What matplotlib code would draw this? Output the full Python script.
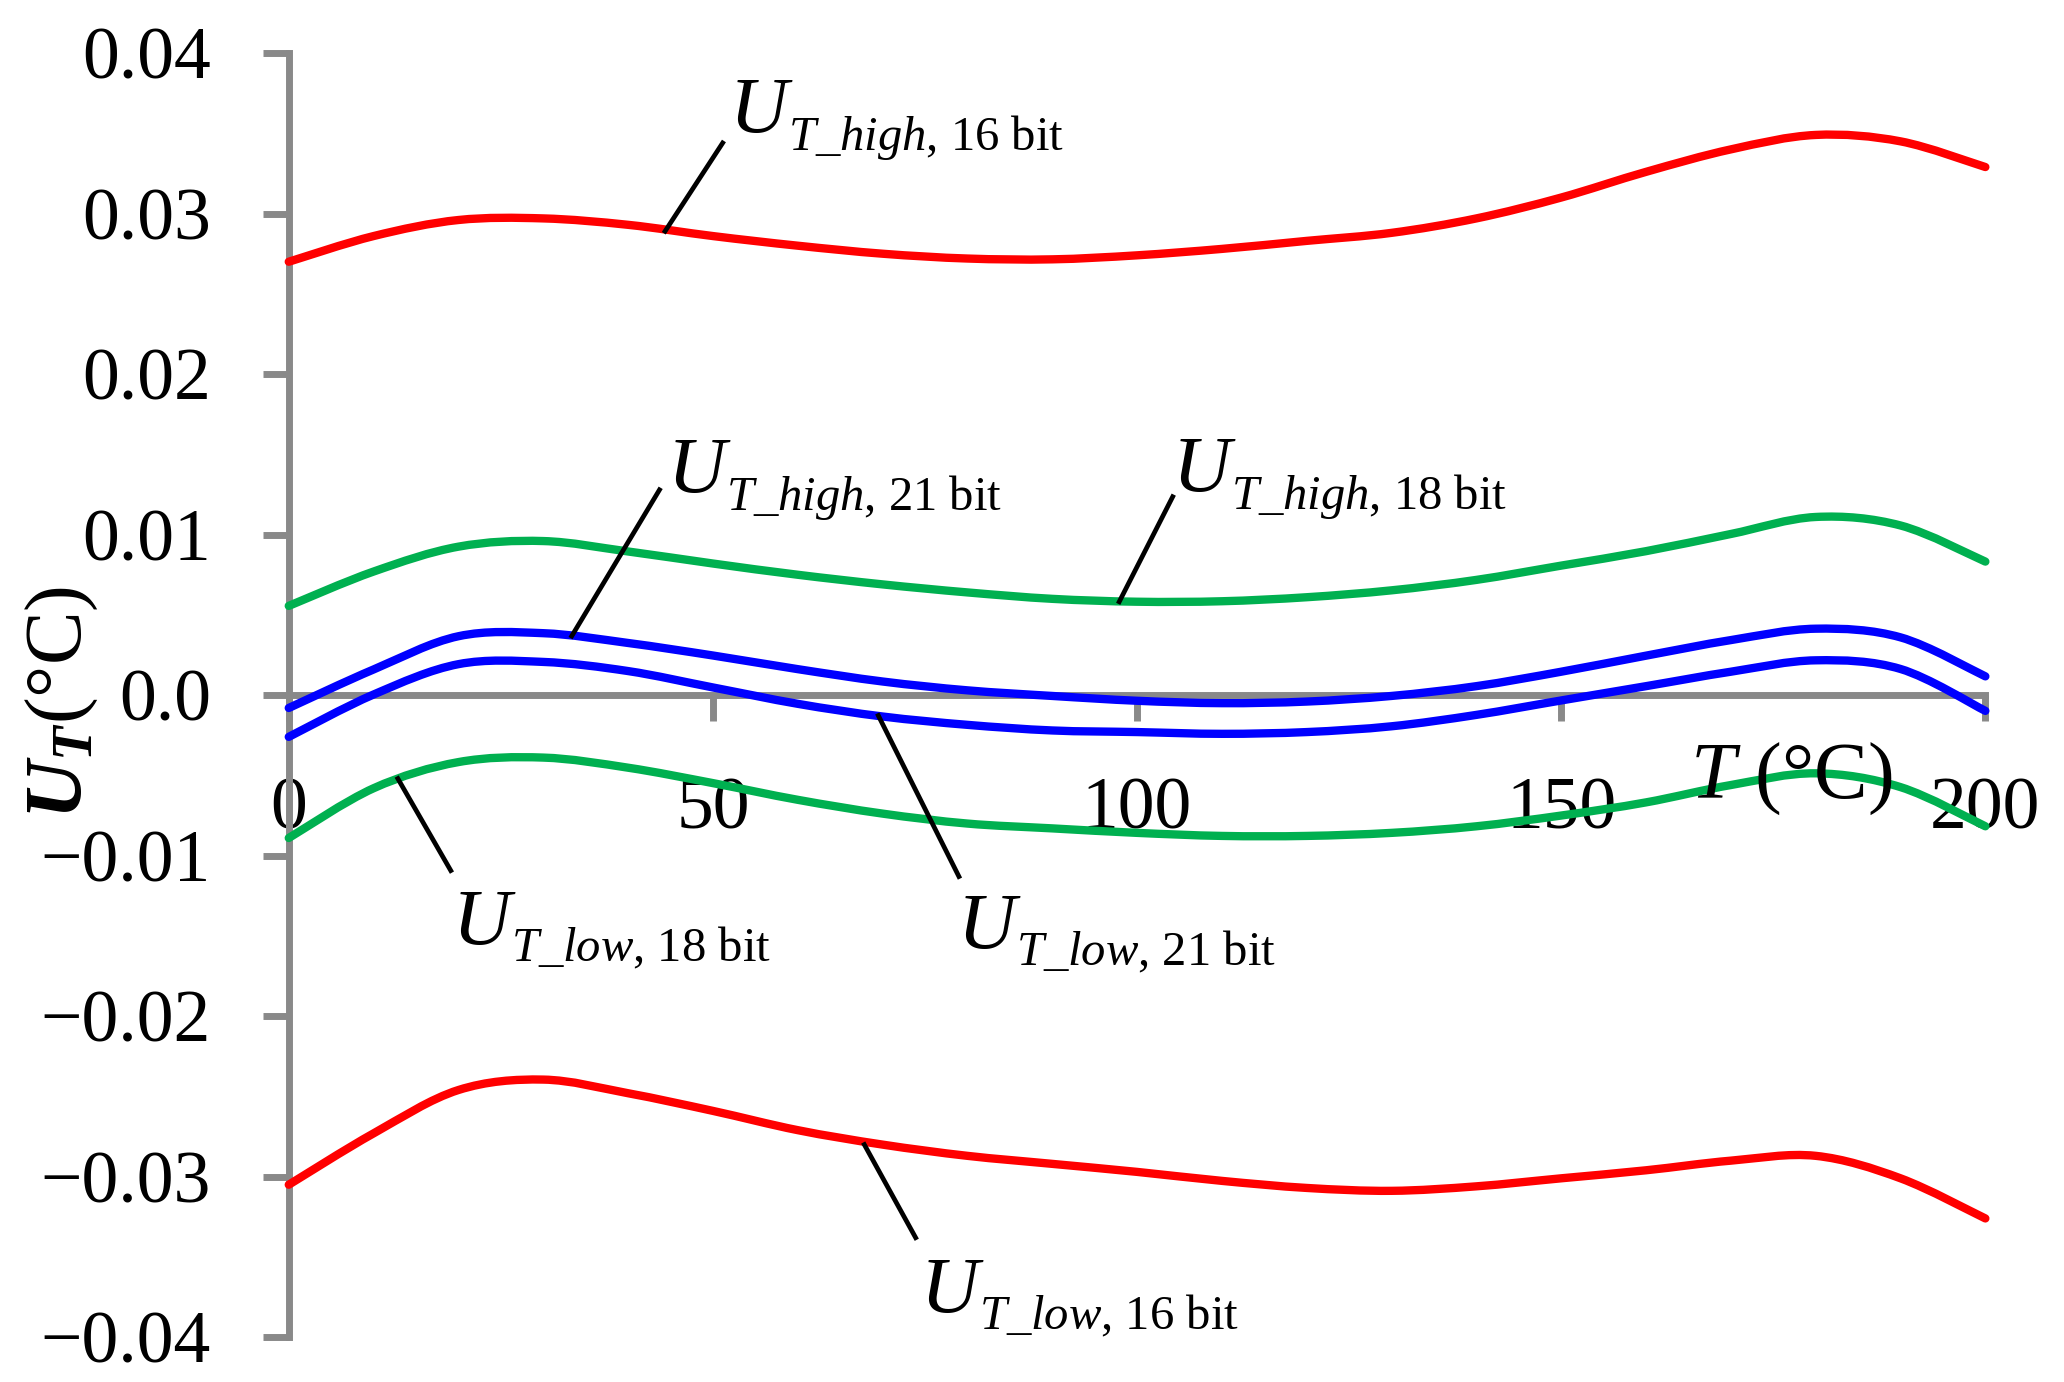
import numpy as np
import matplotlib
matplotlib.use('Agg')
import matplotlib.pyplot as plt
from matplotlib.path import Path
from matplotlib.patches import PathPatch
from matplotlib.transforms import offset_copy

plt.rcParams['font.family'] = 'Liberation Serif'
plt.rcParams['mathtext.fontset'] = 'custom'
plt.rcParams['mathtext.rm'] = 'Liberation Serif'
plt.rcParams['mathtext.it'] = 'Liberation Serif:italic'
plt.rcParams['mathtext.bf'] = 'Liberation Serif:bold'
try:
    plt.rcParams['mathtext.bfit'] = 'Liberation Serif:bold:italic'
except KeyError:
    pass

# temperature grid (°C)
T = [0, 10, 20, 30, 40, 50, 60, 70, 80, 90, 100,
     110, 120, 130, 140, 150, 160, 170, 180, 190, 200]

# uncertainty bounds (°C)
high_16 = [0.0270, 0.0286, 0.0296, 0.0297, 0.0293, 0.0286, 0.0280, 0.0275, 0.0272, 0.02715, 0.0274,
           0.0278, 0.0283, 0.0288, 0.0297, 0.0310, 0.0326, 0.0340, 0.0349, 0.0345, 0.0329]
low_16 = [-0.0305, -0.0273, -0.0246, -0.02395, -0.0248, -0.0259, -0.0271, -0.0280, -0.0287, -0.0292, -0.0297,
          -0.03026, -0.0307, -0.03088, -0.0306, -0.0301, -0.0296, -0.0290, -0.0287, -0.0301, -0.0326]
high_18 = [0.00556, 0.00770, 0.00925, 0.0096, 0.00895, 0.0082, 0.0075, 0.0069, 0.0064, 0.0060, 0.00582,
           0.00585, 0.0061, 0.00653, 0.00718, 0.00807, 0.00897, 0.01004, 0.0111, 0.01057, 0.00832]
low_18 = [-0.0089, -0.0058, -0.00417, -0.00389, -0.00452, -0.00548, -0.00652, -0.00738, -0.0080, -0.0083, -0.00858,
          -0.00877, -0.00877, -0.00858, -0.00817, -0.0075, -0.00668, -0.0056, -0.00487, -0.00573, -0.00817]
high_21 = [-0.0008, 0.0016, 0.00367, 0.00386, 0.00325, 0.00247, 0.00162, 0.00085, 0.0003, -0.00005, -0.00035,
           -0.0005, -0.0004, -0.00005, 0.00056, 0.00146, 0.00246, 0.00343, 0.00414, 0.0036, 0.00117]
low_21 = [-0.0026, 0.00004, 0.00193, 0.00207, 0.0015, 0.00048, -0.00054, -0.00133, -0.00185, -0.0022, -0.0023,
          -0.00241, -0.0023, -0.00194, -0.00123, -0.00033, 0.00056, 0.00146, 0.00217, 0.00163, -0.00098]

series = [(high_16, '#FF0000'), (low_16, '#FF0000'),
          (high_18, '#00B050'), (low_18, '#00B050'),
          (high_21, '#0000FF'), (low_21, '#0000FF')]

yticks = [-0.04, -0.03, -0.02, -0.01, 0.0, 0.01, 0.02, 0.03, 0.04]
yticklabels = ['\u22120.04', '\u22120.03', '\u22120.02', '\u22120.01', '0.0', '0.01', '0.02', '0.03', '0.04']
xticks = [0, 50, 100, 150, 200]

AXIS_GREY = '#898989'


def smooth_line(ax, x, y, color):
    # Excel-like smoothed line: cubic Bezier segments through the points
    p = np.column_stack([x, y]).astype(float)
    q = np.vstack([p[0], p, p[-1]])
    verts = [p[0]]
    codes = [Path.MOVETO]
    for i in range(len(p) - 1):
        a, b, c, d = q[i], q[i + 1], q[i + 2], q[i + 3]
        verts += [b + (c - a) / 6, c - (d - b) / 6, c]
        codes += [Path.CURVE4] * 3
    ax.add_patch(PathPatch(Path(verts, codes), fill=False, edgecolor=color,
                           lw=6, capstyle='round', clip_on=False, zorder=3))


def curve_label(ax, fig, xy_text, line, sub):
    ax.plot([line[0][0], line[1][0]], [line[0][1], line[1][1]], color='black',
            lw=3.4, clip_on=False, zorder=4)
    ax.text(xy_text[0], xy_text[1], 'U', fontsize=58, style='italic',
            ha='left', va='baseline')
    tr = offset_copy(ax.transData, fig=fig, x=42, y=-12, units='points')
    ax.text(xy_text[0], xy_text[1], sub, transform=tr, fontsize=35,
            ha='left', va='baseline')


fig = plt.figure(figsize=(20.64, 13.82), dpi=100)
ax = fig.add_axes([0.1399, 0.0324, 0.822, 0.9292])

for vals, col in series:
    smooth_line(ax, T, vals, col)

ax.set_xlim(0, 200)
ax.set_ylim(-0.04, 0.04)

for s in ['top', 'right']:
    ax.spines[s].set_visible(False)
ax.spines['bottom'].set_position(('data', 0))
for s in ['bottom', 'left']:
    ax.spines[s].set_color(AXIS_GREY)
    ax.spines[s].set_linewidth(5)

ax.set_yticks(yticks)
ax.set_yticklabels(yticklabels)
ax.set_xticks(xticks)
ax.set_xticklabels([str(t) for t in xticks])
ax.tick_params(axis='y', direction='out', length=19, width=5, color=AXIS_GREY,
               labelsize=53, pad=37)
ax.tick_params(axis='x', direction='out', length=19, width=5, color=AXIS_GREY,
               labelsize=53, pad=40)

# labels with leader lines
curve_label(ax, fig, (52.0, 0.0350), [(51.15, 0.0344), (44.36, 0.0289)], r'$T\_high$, 16 bit')
curve_label(ax, fig, (44.7, 0.01259), [(43.7, 0.01279), (33.36, 0.00368)], r'$T\_high$, 21 bit')
curve_label(ax, fig, (104.2, 0.01265), [(104.2, 0.01236), (97.9, 0.00582)], r'$T\_high$, 18 bit')
curve_label(ax, fig, (19.3, -0.01558), [(19.1, -0.01093), (12.86, -0.0052)], r'$T\_low$, 18 bit')
curve_label(ax, fig, (78.8, -0.01581), [(69.5, -0.00127), (79.0, -0.0113)], r'$T\_low$, 21 bit')
curve_label(ax, fig, (74.5, -0.0385), [(67.85, -0.0280), (73.9, -0.0338)], r'$T\_low$, 16 bit')

# axis titles
ax.text(165.2, -0.00641, r'$T$ (°C)', fontsize=58, ha='left', va='baseline')
fig.text(62 / 2064, 1 - 703 / 1382, r'$\mathbfit{U}_{\mathbfit{T}}$(°C)', fontsize=58,
         rotation=90, ha='center', va='center')

fig.savefig('out.png', dpi=100)
